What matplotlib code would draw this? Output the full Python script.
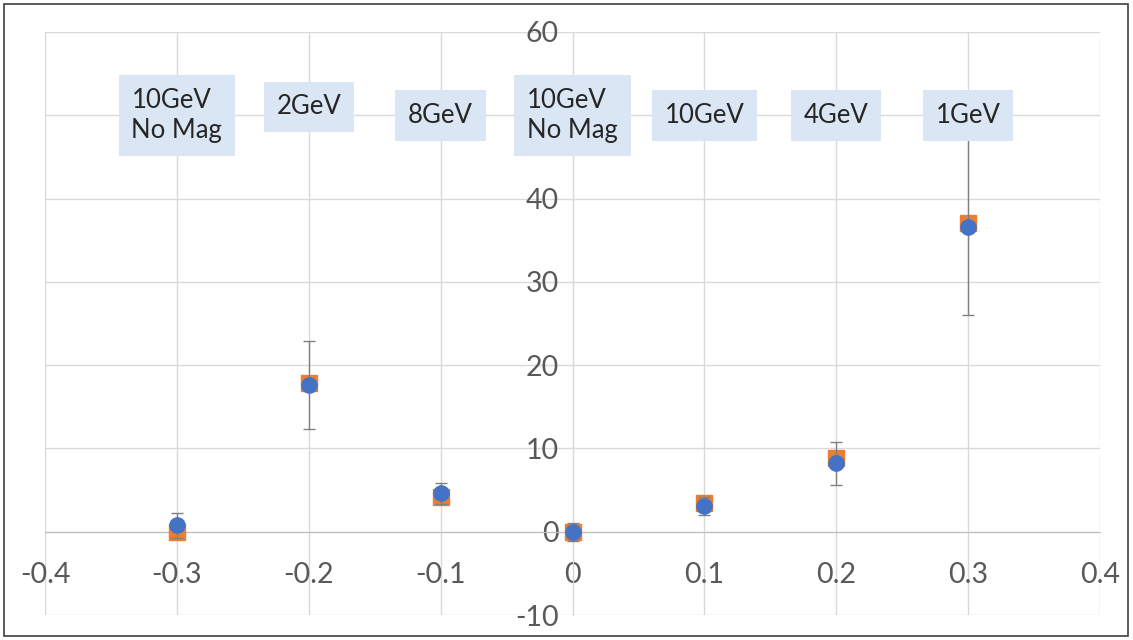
import matplotlib.pyplot as plt
from matplotlib.patches import Rectangle

# values
x = [-0.3, -0.2, -0.1, 0.0, 0.1, 0.2, 0.3]
orange = [0.0, 17.8, 4.2, 0.0, 3.5, 8.9, 37.1]
blue = [0.8, 17.6, 4.6, 0.0, 3.1, 8.2, 36.6]
blue_err = [1.5, 5.3, 1.3, 1.1, 1.1, 2.6, 10.6]
labels = ["10GeV\nNo Mag", "2GeV", "8GeV", "10GeV\nNo Mag", "10GeV", "4GeV", "1GeV"]
label_y = [50, 51, 50, 50, 50, 50, 50]

xticks = [-0.4, -0.3, -0.2, -0.1, 0, 0.1, 0.2, 0.3, 0.4]
xticklabels = ["-0.4", "-0.3", "-0.2", "-0.1", "0", "0.1", "0.2", "0.3", "0.4"]
yticks = [-10, 0, 10, 20, 30, 40, 50, 60]
yticklabels = ["-10", "0", "10", "20", "30", "40", "50", "60"]

plt.rcParams['font.family'] = ['Lato', 'DejaVu Sans']

fig = plt.figure(figsize=(11.33, 6.4), dpi=100)
ax = fig.add_axes([45 / 1133, 25 / 640, 1055 / 1133, 583 / 640])

ax.set_xlim(-0.4, 0.4)
ax.set_ylim(-10, 60)
ax.set_xticks(xticks)
ax.set_xticklabels(xticklabels)
ax.set_yticks(yticks)
ax.set_yticklabels(yticklabels)
ax.grid(True, color='#d9d9d9', linewidth=1)
ax.set_axisbelow(True)

for s in ['top', 'right']:
    ax.spines[s].set_visible(False)
ax.spines['left'].set_position(('data', 0))
ax.spines['bottom'].set_position(('data', 0))
ax.spines['left'].set_color('#d9d9d9')
ax.spines['bottom'].set_color('#bfbfbf')
ax.tick_params(length=0, labelsize=20.5, colors='#595959')
ax.tick_params(axis='x', pad=22)
ax.tick_params(axis='y', pad=10)

ax.plot(x, orange, 's', color='#ED7D31', markersize=11.5, zorder=3)
ax.errorbar(x, blue, yerr=blue_err, fmt='o', color='#4472C4', markersize=11,
            ecolor='#808080', elinewidth=1, capsize=4, capthick=1, zorder=4)

for xi, yi, lab in zip(x, label_y, labels):
    ax.text(xi, yi, lab, ha='center', va='center', multialignment='left',
            fontsize=18.5, color='#262626', linespacing=1.25, zorder=5,
            bbox=dict(boxstyle='square,pad=0.5', facecolor='#dae6f4', edgecolor='none'))

fig.patches.append(Rectangle((4 / 1133, 4 / 640), 1124 / 1133, 632 / 640, transform=fig.transFigure,
                             fill=False, edgecolor='#404040', linewidth=1.2))

fig.savefig('out.png', dpi=100)
